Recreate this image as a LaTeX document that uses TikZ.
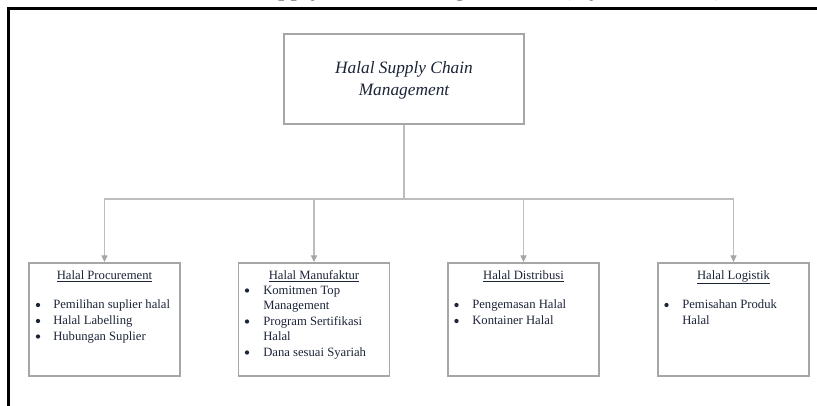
\documentclass[tikz,border=0pt]{standalone}
\usepackage{fontspec}
\setmainfont{Liberation Serif}
\usetikzlibrary{arrows.meta}
\definecolor{txt}{HTML}{1C2438}
\definecolor{boxgray}{HTML}{A6A6A6}
\definecolor{linegray}{HTML}{BDBDBD}
\begin{document}
\begin{tikzpicture}[x=0.75pt,y=-0.75pt,
  capt/.style={anchor=base west, inner sep=0, font=\fontsize{19}{22}\selectfont, text=black},
  mainbox/.style={draw=boxgray, line width=1.4pt, minimum width=180pt, minimum height=67.5pt, inner sep=0},
  subbox/.style={draw=boxgray, line width=1.4pt, minimum width=113.25pt, minimum height=84.75pt, inner sep=0},
  maintitle/.style={anchor=base, inner sep=0, font=\fontsize{13}{15}\selectfont\itshape, text=txt},
  subtitle/.style={anchor=base, inner sep=0, font=\fontsize{9.5}{11}\selectfont, text=txt},
  itemtext/.style={anchor=base west, inner sep=0, font=\fontsize{9.5}{11}\selectfont, text=txt},
  bulc/.style={circle, fill=txt, inner sep=0, minimum size=3.2pt},
  conn/.style={draw=linegray, line width=0.8pt, -{Triangle[width=4.5pt,length=5pt,fill=boxgray,color=boxgray]}}
]
\clip (0,0) rectangle (817,405);
\fill[white] (0,0) rectangle (817,405);

% cut-off caption above the frame
\node[capt] (cap1) at (251,-5) {Supply Chain Management};
\node[capt] (cap2) at (562,-5) {(Nyoman 2020)};

% outer frame
\draw[line width=1.6pt, black] (8.5,420) -- (8.5,8.5) -- (830,8.5);

% main box
\node[mainbox] (top) at (404,79) {};
\node[maintitle] (t1) at (404,73) {Halal Supply Chain};
\node[maintitle] (t2) at (404,95) {Management};

% sub boxes
\node[subbox] (b1) at (104.5,319.5) {};
\node[subbox] (b2) at (314,319.5) {};
\node[subbox] (b3) at (523.5,319.5) {};
\node[subbox] (b4) at (733.5,319.5) {};

% connectors
\coordinate (hub) at (404,199);
\draw[conn] (top.south) -- (hub) -| (b1.north);
\draw[conn] (top.south) -- (hub) -| (b2.north);
\draw[conn] (top.south) -- (hub) -| (b3.north);
\draw[conn] (top.south) -- (hub) -| (b4.north);

% box 1
\node[subtitle] (h1) at (104.5,279) {\underline{Halal Procurement}};
\node[bulc] (b1a) at (38,305) {};
\node[itemtext] (i1a) at (53,308.5) {Pemilihan suplier halal};
\node[bulc] (b1b) at (38,321) {};
\node[itemtext] (i1b) at (53,324.5) {Halal Labelling};
\node[bulc] (b1c) at (38,336.5) {};
\node[itemtext] (i1c) at (53,340) {Hubungan Suplier};

% box 2
\node[subtitle] (h2) at (314,279) {\underline{Halal Manufaktur}};
\node[bulc] (b2a) at (247,290.5) {};
\node[itemtext] (i2a) at (263,294) {Komitmen Top};
\node[itemtext] (i2b) at (263,309.5) {Management};
\node[bulc] (b2c) at (247,321.5) {};
\node[itemtext] (i2c) at (263,325) {Program Sertifikasi};
\node[itemtext] (i2d) at (263,340.5) {Halal};
\node[bulc] (b2e) at (247,352.5) {};
\node[itemtext] (i2e) at (263,356) {Dana sesuai Syariah};

% box 3
\node[subtitle] (h3) at (523.5,279) {\underline{Halal Distribusi}};
\node[bulc] (b3a) at (456.5,305) {};
\node[itemtext] (i3a) at (472,308.5) {Pengemasan Halal};
\node[bulc] (b3b) at (456.5,321) {};
\node[itemtext] (i3b) at (472,324.5) {Kontainer Halal};

% box 4
\node[subtitle] (h4) at (733.5,279) {\underline{Halal Logistik}};
\node[bulc] (b4a) at (666.5,305) {};
\node[itemtext] (i4a) at (682,308.5) {Pemisahan Produk};
\node[itemtext] (i4b) at (682,324.5) {Halal};
\end{tikzpicture}
\end{document}
